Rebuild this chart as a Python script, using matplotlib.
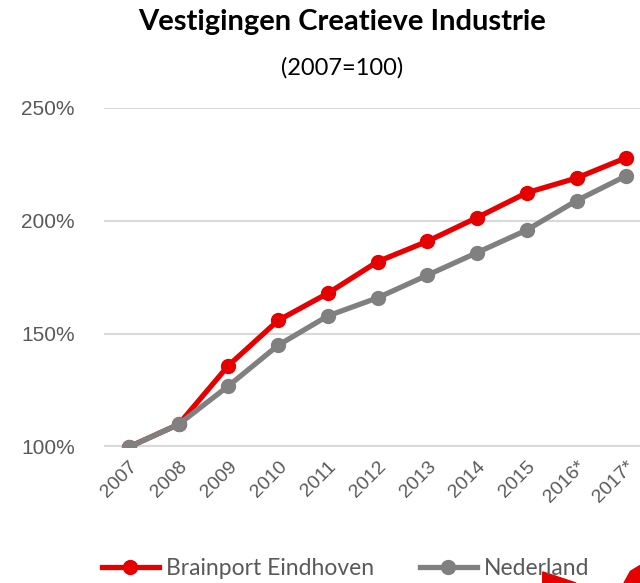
import matplotlib.pyplot as plt
from matplotlib.patches import Polygon
from matplotlib.ticker import FuncFormatter

years = ['2007', '2008', '2009', '2010', '2011', '2012', '2013', '2014', '2015', '2016*', '2017*']
brainport = [100, 110, 136, 156, 168, 182, 191, 201.5, 212.5, 219, 228]
nederland = [100, 110, 127, 145, 158, 166, 176, 186, 196, 209, 220]

RED = '#E60000'
GRAY = '#808080'
TXT = '#595959'

plt.rcParams['font.family'] = ['Lato', 'DejaVu Sans']

fig = plt.figure(figsize=(6.4, 5.83), dpi=100)
ax = fig.add_axes([0.1625, 0.2333, 0.855, 0.5815])

x = list(range(len(years)))
ax.plot(x, brainport, color=RED, lw=3.8, marker='o', ms=10, label='Brainport Eindhoven', zorder=3)
ax.plot(x, nederland, color=GRAY, lw=3.8, marker='o', ms=10, label='Nederland', zorder=4)

ax.set_xlim(-0.5, len(years) - 0.5)
ax.set_ylim(100, 250)
ax.set_yticks([100, 150, 200, 250])
ax.yaxis.set_major_formatter(FuncFormatter(lambda v, p: '%d%%' % v))
ax.set_xticks(x)
ax.set_xticklabels(years, rotation=45, ha='right', rotation_mode='anchor')
ax.tick_params(axis='both', length=0, colors=TXT)
ax.tick_params(axis='x', pad=8, labelsize=14)
ax.tick_params(axis='y', pad=21, labelsize=15)
for lab in ax.get_yticklabels() + ax.get_xticklabels():
    lab.set_family(['Liberation Sans', 'DejaVu Sans'])
ax.grid(axis='y', color='#D9D9D9', lw=1.5)
ax.set_axisbelow(True)
for s in ax.spines.values():
    s.set_visible(False)
ax.axhline(100, color='#D9D9D9', lw=3, zorder=1)

fig.text(0.535, 0.962, 'Vestigingen Creatieve Industrie', ha='center', va='center',
         fontsize=21, fontweight='bold', color='black')
fig.text(0.535, 0.883, '(2007=100)', ha='center', va='center', fontsize=17, color='black')

leg = fig.legend(loc='center', bbox_to_anchor=(0.54, 0.025), ncol=2, frameon=False,
                 fontsize=16.5, handlelength=2.5, columnspacing=2.0, handletextpad=0.3)
for t in leg.get_texts():
    t.set_color(TXT)

# red logo fragments peeking in at the bottom right
fig.patches.append(Polygon([[0.848, 0.019], [0.90, 0.0], [0.848, 0.0]], closed=True,
                           transform=fig.transFigure, color=RED, zorder=5))
fig.patches.append(Polygon([[0.985, 0.02], [1.0, 0.03], [1.0, 0.0], [0.975, 0.0]], closed=True,
                           transform=fig.transFigure, color=RED, zorder=5))

fig.savefig('out.png', dpi=100)
